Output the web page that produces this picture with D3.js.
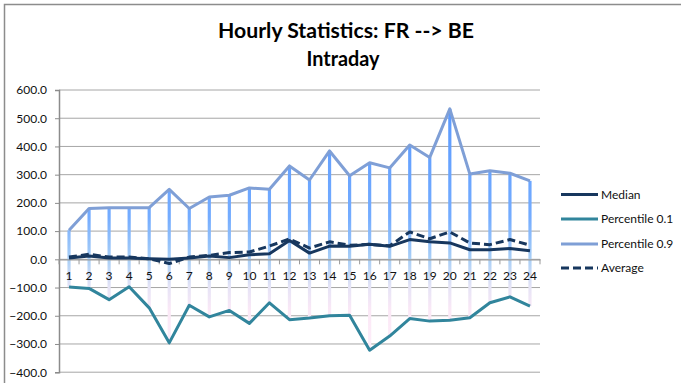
<!DOCTYPE html>
<html>
<head>
<meta charset="utf-8">
<script src="https://cdn.jsdelivr.net/npm/d3@7"></script>
<style>
  html, body { margin: 0; padding: 0; background: #fff; }
  svg { display: block; font-family: Lato, "Open Sans", sans-serif; }
</style>
</head>
<body>
<svg id="chart" width="681" height="383"></svg>
<script>
// Hourly flow statistics, FR --> BE, intraday
const hours = ["1","2","3","4","5","6","7","8","9","10","11","12","13","14","15","16","17","18","19","20","21","22","23","24"];
const median = [5,12,5,5,2,0,5,12,6,16,20,67,22,47,46,53,46,70,62,58,34,34,38,30];
const p10 = [-98,-103,-143,-97,-172,-296,-163,-204,-181,-227,-154,-214,-208,-200,-198,-322,-272,-210,-219,-216,-207,-154,-133,-166];
const p90 = [103,180,183,183,183,248,180,221,227,253,248,331,281,384,296,342,324,405,361,533,302,314,305,278];
const average = [8,18,8,8,2,-15,8,14,24,26,47,72,40,62,50,53,48,97,73,97,58,52,70,50];
const yTicks = [-400,-300,-200,-100,0,100,200,300,400,500,600];

const series = [
  { name: "Median", values: median, color: "#17375e", dash: null },
  { name: "Percentile 0.1", values: p10, color: "#31859c", dash: null },
  { name: "Percentile 0.9", values: p90, color: "#7f9fd6", dash: null },
  { name: "Average", values: average, color: "#17375e", dash: "8,4" }
];

const svg = d3.select("#chart");
const plot = { left: 59, right: 540, top: 90, bottom: 372.2 };

// outer frame (top and left edges of the chart area)
svg.append("path")
  .attr("d", "M4.5,400 L4.5,4.5 L690,4.5")
  .attr("fill", "none").attr("stroke", "#8c8c8c").attr("stroke-width", 1.5);

const x = d3.scaleBand().domain(hours).range([plot.left, plot.right]);
const y = d3.scaleLinear().domain([-400, 600]).range([plot.bottom, plot.top]);

// vertical gradient for the high-low lines
const defs = svg.append("defs");
const grad = defs.append("linearGradient")
  .attr("id", "hl").attr("gradientUnits", "userSpaceOnUse")
  .attr("x1", 0).attr("x2", 0).attr("y1", y(600)).attr("y2", y(-400));
[[0, "#5596ff"], [0.45, "#74acff"], [0.6, "#a9cff6"], [0.7, "#e6e4f6"], [0.78, "#fbe8f6"], [1, "#fff0fb"]]
  .forEach(([o, c]) => grad.append("stop").attr("offset", o).attr("stop-color", c));

// horizontal gridlines
svg.append("g").selectAll("line").data(yTicks).join("line")
  .attr("x1", plot.left).attr("x2", plot.right)
  .attr("y1", d => y(d)).attr("y2", d => y(d))
  .attr("stroke", "#a6a6a6").attr("stroke-width", 1);

// y axis
const yAxis = svg.append("g").attr("transform", `translate(${plot.left},0)`)
  .call(d3.axisLeft(y).tickValues(yTicks).tickSize(4).tickPadding(8).tickFormat(d3.format(".1f")));
yAxis.select(".domain").attr("stroke", "#8c8c8c").attr("stroke-width", 1.5);
yAxis.selectAll(".tick line").attr("stroke", "#8c8c8c");
yAxis.selectAll("text").attr("font-size", 12).attr("fill", "#111")
  .attr("font-family", "Lato, sans-serif");

// high-low lines between the 0.9 and 0.1 percentiles
svg.append("g").selectAll("line").data(hours).join("line")
  .attr("x1", d => x(d) + x.bandwidth() / 2).attr("x2", d => x(d) + x.bandwidth() / 2)
  .attr("y1", (d, i) => y(p90[i])).attr("y2", (d, i) => y(p10[i]))
  .attr("stroke", "url(#hl)").attr("stroke-width", 3.2);

// x axis along zero
const xAxis = svg.append("g").attr("transform", `translate(0,${y(0)})`)
  .call(d3.axisBottom(x).tickSize(0).tickPadding(12));
xAxis.select(".domain").attr("stroke", "#9a9a9a").attr("stroke-width", 1.2);
xAxis.selectAll("text").attr("font-size", 12).attr("fill", "#111")
  .attr("font-family", "Lato, sans-serif");
// tick marks at category boundaries
svg.append("g").selectAll("line").data(hours.concat(["end"])).join("line")
  .attr("x1", (d, i) => plot.left + i * x.step()).attr("x2", (d, i) => plot.left + i * x.step())
  .attr("y1", y(0)).attr("y2", y(0) + 5)
  .attr("stroke", "#9a9a9a").attr("stroke-width", 1);

// series lines
const line = d3.line().x((d, i) => x(hours[i]) + x.bandwidth() / 2).y(d => y(d));
svg.append("g").selectAll("path").data(series).join("path")
  .attr("d", d => line(d.values))
  .attr("fill", "none")
  .attr("stroke", d => d.color)
  .attr("stroke-width", 3)
  .attr("stroke-linejoin", "round")
  .attr("stroke-dasharray", d => d.dash);

// legend
const legendY = [194.5, 219, 244, 268];
const lg = svg.append("g").selectAll("g").data(series).join("g")
  .attr("transform", (d, i) => `translate(561,${legendY[i]})`);
lg.append("line").attr("x1", 0).attr("x2", 37).attr("y1", 0).attr("y2", 0)
  .attr("stroke", d => d.color).attr("stroke-width", 3)
  .attr("stroke-dasharray", d => d.dash);
lg.append("text").attr("x", 40).attr("y", 4.3).text(d => d.name)
  .attr("font-size", 12).attr("fill", "#111");

// title
const title = svg.append("g").attr("font-weight", "bold").attr("font-size", 20)
  .attr("fill", "#000").attr("text-anchor", "middle");
title.append("text").attr("x", 346).attr("y", 37.5)
  .attr("textLength", 256).attr("lengthAdjust", "spacingAndGlyphs")
  .text("Hourly Statistics: FR --> BE");
title.append("text").attr("x", 343).attr("y", 66)
  .attr("textLength", 73).attr("lengthAdjust", "spacingAndGlyphs")
  .text("Intraday");
</script>
</body>
</html>
